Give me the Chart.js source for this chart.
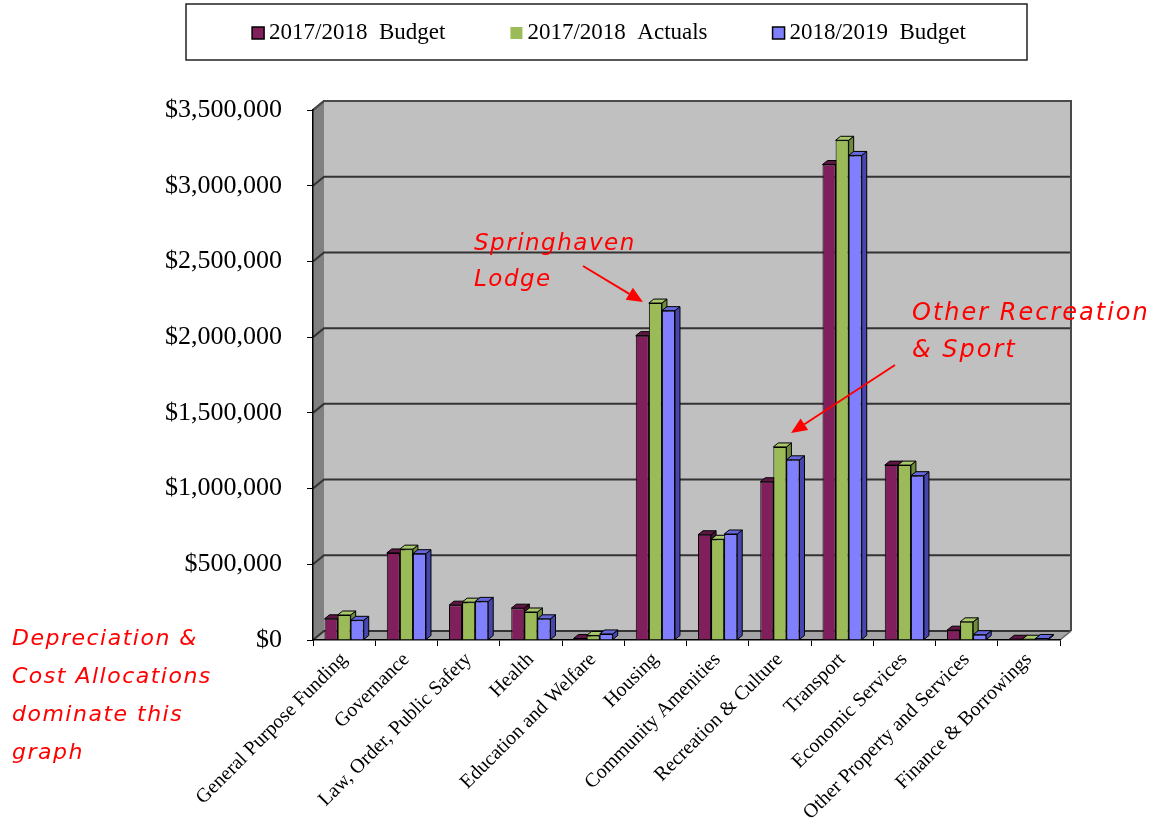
<!DOCTYPE html>
<html>
<head>
<meta charset="utf-8">
<script src="https://cdn.jsdelivr.net/npm/chart.js@4.4.0/dist/chart.umd.min.js"></script>
<style>
  body { margin: 0; background: #fff; }
  canvas { display: block; }
</style>
</head>
<body>
<canvas id="myChart" width="1159" height="838"></canvas>
<script>
// categories and values per series (dollars)
const categories = [
    'General Purpose Funding', 'Governance', 'Law, Order, Public Safety', 'Health',
    'Education and Welfare', 'Housing', 'Community Amenities', 'Recreation & Culture',
    'Transport', 'Economic Services', 'Other Property and Services', 'Finance & Borrowings'
];
const seriesLabels = ['2017/2018  Budget', '2017/2018  Actuals', '2018/2019  Budget'];
const budget1718  = [140000, 575000, 230000, 210000, 10000, 2010000, 695000, 1045000, 3140000, 1155000, 65000, 5000];
const actuals1718 = [165000, 600000, 250000, 185000, 30000, 2225000, 665000, 1275000, 3300000, 1155000, 120000, 5000];
const budget1819  = [130000, 570000, 255000, 140000, 40000, 2175000, 700000, 1190000, 3200000, 1085000, 35000, 10000];
const yMax = 3500000;
const yStep = 500000;

// handwritten notes
const noteLodge = ['Springhaven', 'Lodge'];
const noteSport = ['Other Recreation', '& Sport'];
const noteSide = ['Depreciation &', 'Cost Allocations', 'dominate this', 'graph'];

// colours: front face, side face, top face
const palette = [
    { front: '#7F1F5C', side: '#4A0F34', top: '#5E1645' },
    { front: '#9BBB59', side: '#6F8C3A', top: '#A9C76B' },
    { front: '#8080FF', side: '#4646AE', top: '#6767DD' }
];

const WALL_DX = 11, WALL_DY = -9;   // depth of back wall
const BAR_DX = 5, BAR_DY = -4;      // depth of each bar

function poly(ctx, pts, fill, stroke) {
    ctx.beginPath();
    ctx.moveTo(pts[0][0], pts[0][1]);
    for (let i = 1; i < pts.length; i++) ctx.lineTo(pts[i][0], pts[i][1]);
    ctx.closePath();
    ctx.fillStyle = fill;
    ctx.fill();
    if (stroke) {
        ctx.strokeStyle = stroke;
        ctx.lineWidth = 1;
        ctx.stroke();
    }
}

function arrow(ctx, x1, y1, x2, y2) {
    const ang = Math.atan2(y2 - y1, x2 - x1);
    const len = 16, half = 7;
    const bx = x2 - len * Math.cos(ang), by = y2 - len * Math.sin(ang);
    ctx.strokeStyle = '#FF0000';
    ctx.lineWidth = 2;
    ctx.beginPath();
    ctx.moveTo(x1, y1);
    ctx.lineTo(bx, by);
    ctx.stroke();
    ctx.beginPath();
    ctx.moveTo(x2, y2);
    ctx.lineTo(bx + half * Math.sin(ang), by - half * Math.cos(ang));
    ctx.lineTo(bx - half * Math.sin(ang), by + half * Math.cos(ang));
    ctx.closePath();
    ctx.fillStyle = '#FF0000';
    ctx.fill();
}

function note(ctx, lines, x, y, step, size, spacing) {
    ctx.font = 'oblique ' + size + 'px "DejaVu Sans"';
    ctx.letterSpacing = spacing + 'px';
    lines.forEach((s, i) => ctx.fillText(s, x, y + i * step));
    ctx.letterSpacing = '0px';
}

const chart3d = {
    id: 'chart3d',
    beforeDraw(chart) {
        const ctx = chart.ctx;
        const a = chart.chartArea;
        const yScale = chart.scales.y;
        ctx.save();
        // side wall, back wall and floor
        poly(ctx, [[a.left, a.top], [a.left + WALL_DX, a.top + WALL_DY],
                   [a.left + WALL_DX, a.bottom + WALL_DY], [a.left, a.bottom]], '#808080');
        poly(ctx, [[a.left + WALL_DX, a.top + WALL_DY], [a.right + WALL_DX, a.top + WALL_DY],
                   [a.right + WALL_DX, a.bottom + WALL_DY], [a.left + WALL_DX, a.bottom + WALL_DY]], '#C0C0C0');
        poly(ctx, [[a.left, a.bottom], [a.left + WALL_DX, a.bottom + WALL_DY],
                   [a.right + WALL_DX, a.bottom + WALL_DY], [a.right, a.bottom]], '#A4A4A4');
        // gridlines on the back wall
        ctx.strokeStyle = '#333';
        ctx.lineWidth = 2;
        yScale.ticks.forEach(t => {
            const y = yScale.getPixelForValue(t.value);
            ctx.beginPath();
            ctx.moveTo(a.left, y);
            ctx.lineTo(a.left + WALL_DX, y + WALL_DY);
            ctx.lineTo(a.right + WALL_DX, y + WALL_DY);
            ctx.stroke();
        });
        // wall outline
        ctx.strokeStyle = '#4a4a4a';
        ctx.lineWidth = 2;
        ctx.beginPath();
        ctx.moveTo(a.right + WALL_DX, a.bottom + WALL_DY);
        ctx.lineTo(a.right + WALL_DX, a.top + WALL_DY);
        ctx.lineTo(a.left + WALL_DX, a.top + WALL_DY);
        ctx.lineTo(a.left, a.top);
        ctx.stroke();
        ctx.strokeStyle = '#666';
        ctx.lineWidth = 1.5;
        ctx.beginPath();
        ctx.moveTo(a.right, a.bottom);
        ctx.lineTo(a.right + WALL_DX, a.bottom + WALL_DY);
        ctx.stroke();
        ctx.restore();
    },
    beforeDatasetsDraw(chart) {
        // top and side faces go underneath the front faces
        const ctx = chart.ctx;
        ctx.save();
        chart.data.datasets.forEach((ds, i) => {
            const meta = chart.getDatasetMeta(i);
            const c = palette[i];
            meta.data.forEach(bar => {
                const l = bar.x - bar.width / 2, r = bar.x + bar.width / 2;
                const top = bar.y, base = bar.base;
                poly(ctx, [[r, top], [r + BAR_DX, top + BAR_DY], [r + BAR_DX, base + BAR_DY], [r, base]], c.side, '#000');
                poly(ctx, [[l, top], [l + BAR_DX, top + BAR_DY], [r + BAR_DX, top + BAR_DY], [r, top]], c.top, '#000');
            });
        });
        ctx.restore();
    },
    afterDraw(chart) {
        const ctx = chart.ctx;
        ctx.save();
        // legend box
        ctx.fillStyle = '#fff';
        ctx.fillRect(186, 4, 841, 56);
        ctx.strokeStyle = '#222';
        ctx.lineWidth = 1.5;
        ctx.strokeRect(186, 4, 841, 56);
        ctx.font = '23px "Liberation Serif"';
        ctx.textBaseline = 'middle';
        const box = 12, gapText = 5, gapItem = 65;
        const widths = seriesLabels.map(s => box + gapText + ctx.measureText(s).width);
        const total = widths.reduce((p, w) => p + w, 0) + gapItem * (widths.length - 1);
        let x = 609 - total / 2;
        seriesLabels.forEach((s, i) => {
            ctx.fillStyle = palette[i].front;
            ctx.fillRect(x, 27, box, box);
            if (i !== 1) {
                ctx.strokeStyle = '#000';
                ctx.lineWidth = 1.5;
                ctx.strokeRect(x, 27, box, box);
            }
            ctx.fillStyle = '#000';
            ctx.fillText(s, x + box + gapText, 33);
            x += widths[i] + gapItem;
        });

        // red notes
        ctx.fillStyle = '#FF0000';
        ctx.textBaseline = 'alphabetic';
        note(ctx, noteLodge, 474, 250, 36, 23, 1.5);
        note(ctx, noteSport, 912, 320, 37, 24, 2);
        note(ctx, noteSide, 12, 645, 38, 22, 1.5);
        arrow(ctx, 583, 266, 643, 302);
        arrow(ctx, 895, 365, 791, 433);
        ctx.restore();
    }
};

const ctx = document.getElementById('myChart');
const myChart = new Chart(ctx, {
    type: 'bar',
    data: {
        labels: categories,
        datasets: [budget1718, actuals1718, budget1819].map((d, i) => ({
            label: seriesLabels[i],
            data: d,
            backgroundColor: palette[i].front,
            borderColor: '#000',
            borderWidth: 1
        }))
    },
    options: {
        responsive: false,
        animation: false,
        layout: { padding: { left: 163, right: 99, top: 110, bottom: 8 } },
        plugins: { legend: { display: false }, tooltip: { enabled: false } },
        datasets: { bar: { categoryPercentage: 0.63, barPercentage: 1 } },
        scales: {
            x: {
                grid: { drawOnChartArea: false, tickLength: 6, color: '#000', offset: true },
                border: { color: '#000', width: 1.5 },
                ticks: {
                    autoSkip: false, minRotation: 45, maxRotation: 45, padding: 2, color: '#000',
                    font: { family: 'Liberation Serif', size: 20 }
                },
                afterFit: s => { s.height = 190; }
            },
            y: {
                min: 0,
                max: yMax,
                grid: { drawOnChartArea: false, tickLength: 6, color: '#000' },
                border: { color: '#000', width: 1.5 },
                ticks: {
                    stepSize: yStep, padding: 25, color: '#000',
                    font: { family: 'Liberation Serif', size: 26 },
                    callback: v => '$' + v.toLocaleString('en-US')
                },
                afterFit: s => { s.width = 150; }
            }
        }
    },
    plugins: [chart3d]
});
</script>
</body>
</html>
